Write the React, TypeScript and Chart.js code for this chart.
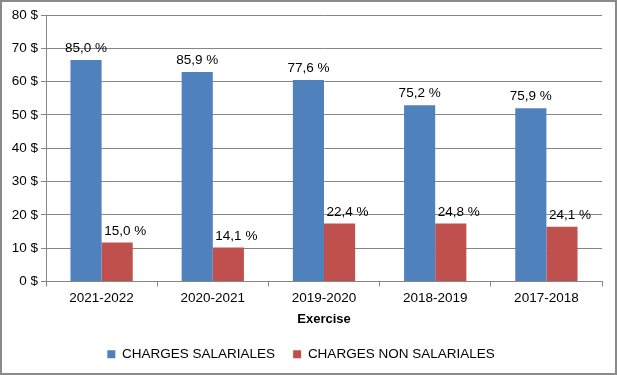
import React, { useEffect, useRef } from "react";
import { Chart, registerables } from "chart.js";

Chart.register(...registerables);

const categories = ["2021-2022", "2020-2021", "2019-2020", "2018-2019", "2017-2018"];
const salaryValues = [66.5, 62.9, 60.5, 52.9, 52.0];
const nonSalaryValues = [11.7, 10.2, 17.4, 17.4, 16.4];
const salaryLabels = ["85,0 %", "85,9 %", "77,6 %", "75,2 %", "75,9 %"];
const nonSalaryLabels = ["15,0 %", "14,1 %", "22,4 %", "24,8 %", "24,1 %"];
const seriesNames = ["CHARGES SALARIALES", "CHARGES NON SALARIALES"];
const axisTitle = "Exercise";

const FONT = "'Liberation Sans', Arial, sans-serif";

const framePlugin = {
  id: "frame",
  beforeDraw(chart: any) {
    const { ctx, width, height } = chart;
    ctx.save();
    ctx.fillStyle = "#ffffff";
    ctx.fillRect(0, 0, width, height);
    ctx.strokeStyle = "#8a8a8a";
    ctx.lineWidth = 2;
    ctx.strokeRect(1, 1, width - 2, height - 2);
    ctx.restore();
  },
};

const labelPlugin = {
  id: "barLabels",
  afterDatasetsDraw(chart: any) {
    const { ctx } = chart;
    const labelSets = [salaryLabels, nonSalaryLabels];
    const dx = [0, 8];
    ctx.save();
    ctx.font = `13.5px ${FONT}`;
    ctx.fillStyle = "#000";
    ctx.textAlign = "center";
    ctx.textBaseline = "alphabetic";
    chart.data.datasets.forEach((_: any, i: number) => {
      const meta = chart.getDatasetMeta(i);
      meta.data.forEach((bar: any, j: number) => {
        ctx.fillText(labelSets[i][j], bar.x + dx[i], bar.y - 8);
      });
    });
    ctx.restore();
  },
};

export default function App() {
  const ref = useRef<HTMLCanvasElement>(null);
  useEffect(() => {
    document.body.style.margin = "0";
    const chart = new Chart(ref.current!, {
      type: "bar",
      data: {
        labels: categories,
        datasets: [
          {
            label: seriesNames[0],
            data: salaryValues,
            backgroundColor: "#4F81BD",
            categoryPercentage: 0.56,
            barPercentage: 1,
          },
          {
            label: seriesNames[1],
            data: nonSalaryValues,
            backgroundColor: "#C0504D",
            categoryPercentage: 0.56,
            barPercentage: 1,
          },
        ],
      },
      options: {
        responsive: false,
        animation: false,
        layout: { padding: { left: 0, right: 15, top: 15, bottom: 4 } },
        plugins: {
          tooltip: { enabled: false },
          legend: {
            position: "bottom",
            labels: {
              boxWidth: 8,
              boxHeight: 8,
              padding: 18,
              color: "#000",
              font: { family: FONT, size: 13.5 },
            },
          },
        },
        scales: {
          x: {
            grid: {
              offset: true,
              drawOnChartArea: false,
              drawTicks: true,
              tickLength: 5,
              color: "#868686",
            },
            border: { color: "#868686", width: 1 },
            ticks: { color: "#000", font: { family: FONT, size: 13.5 }, padding: 4 },
            title: {
              display: true,
              text: axisTitle,
              color: "#000",
              font: { family: FONT, size: 13, weight: "bold" },
              padding: { top: 2, bottom: 2 },
            },
            afterFit: (scale: any) => {
              scale.height = 48;
            },
          },
          y: {
            min: 0,
            max: 80,
            ticks: {
              stepSize: 10,
              color: "#000",
              font: { family: FONT, size: 13.5 },
              padding: 3,
              callback: (v: any) => `${v} $`,
            },
            grid: { color: "#868686", tickLength: 5 },
            border: { color: "#868686", width: 1 },
            afterFit: (scale: any) => {
              scale.width = 46;
            },
          },
        },
      },
      plugins: [framePlugin, labelPlugin],
    });
    return () => chart.destroy();
  }, []);
  return <canvas ref={ref} width={617} height={375} style={{ display: "block" }} />;
}
